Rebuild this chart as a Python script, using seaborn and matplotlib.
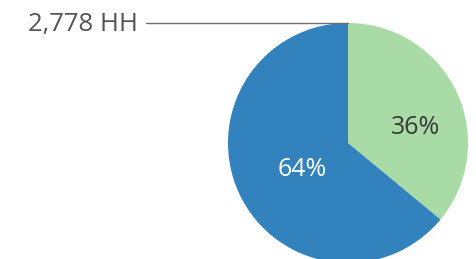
import matplotlib
matplotlib.use("Agg")
import matplotlib.pyplot as plt
import seaborn as sns

categories = ["Group A", "Group B"]
shares = [36, 64]
pct_labels = ["36%", "64%"]
total_label = "2,778 HH"

sns.set_theme(style="white")
plt.rcParams["font.family"] = ["Open Sans", "DejaVu Sans"]

colors = ["#a8dba6", "#3182bd"]

W, H = 477, 259
fig = plt.figure(figsize=(W / 100, H / 100), dpi=100)
ax = fig.add_axes([0, 0, 1, 1])

cx, cy, r = 348, H - 143, 120
wedges, _ = ax.pie(shares, colors=colors, startangle=90, counterclock=False,
                   center=(cx, cy), radius=r, frame=True,
                   wedgeprops=dict(linewidth=0))
ax.set_xlim(0, W)
ax.set_ylim(0, H)
ax.set_aspect("equal")
ax.axis("off")

ax.text(416, H - 127, pct_labels[0], ha="center", va="center",
        fontsize=18, color="#3a3a3a")
ax.text(302, H - 170, pct_labels[1], ha="center", va="center",
        fontsize=18, color="white")

ax.plot([146, cx], [cy + r, cy + r], color="#707070", lw=1)
ax.text(138, cy + r - 2, total_label, ha="right", va="center",
        fontsize=18.5, color="#555555")

fig.savefig("out.png", dpi=100)
